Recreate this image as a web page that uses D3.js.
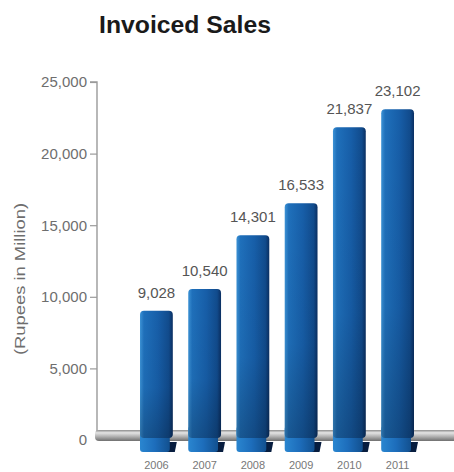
<!DOCTYPE html>
<html>
<head>
<meta charset="utf-8">
<script src="https://cdn.jsdelivr.net/npm/d3@7"></script>
<style>
  html, body { margin: 0; padding: 0; background: #fff; }
  svg { display: block; }
</style>
</head>
<body>
<script>
// Invoiced sales, Rupees in Million
const years = ["2006", "2007", "2008", "2009", "2010", "2011"];
const sales = [9028, 10540, 14301, 16533, 21837, 23102];
const yTicks = [0, 5000, 10000, 15000, 20000, 25000];

const W = 454, H = 472;
const svg = d3.select("body").append("svg").attr("width", W).attr("height", H);
const defs = svg.append("defs");

// bar body: lit left edge fading to a dark right edge
const gBar = defs.append("linearGradient").attr("id", "barH").attr("x1", 0).attr("x2", 1).attr("y1", 0).attr("y2", 0);
[[0, "#3d93d6"], [0.12, "#1f70bb"], [0.55, "#175ea8"], [0.88, "#114b8c"], [1, "#0a2f62"]]
  .forEach(([o, c]) => gBar.append("stop").attr("offset", o).attr("stop-color", c));
// slight darkening towards the foot
const gShade = defs.append("linearGradient").attr("id", "barV").attr("x1", 0).attr("x2", 0).attr("y1", 0).attr("y2", 1);
[[0, "#000", 0], [0.6, "#000", 0.04], [1, "#000", 0.22]]
  .forEach(([o, c, a]) => gShade.append("stop").attr("offset", o).attr("stop-color", c).attr("stop-opacity", a));
// floor cylinder
const gFloor = defs.append("linearGradient").attr("id", "floor").attr("x1", 0).attr("x2", 0).attr("y1", 0).attr("y2", 1);
[[0, "#8c8c8c"], [0.25, "#e4e4e4"], [0.55, "#b8b8b8"], [1, "#6f6f6f"]]
  .forEach(([o, c]) => gFloor.append("stop").attr("offset", o).attr("stop-color", c));
// foot of the bar
const gFoot = defs.append("linearGradient").attr("id", "foot").attr("x1", 0).attr("x2", 1).attr("y1", 0).attr("y2", 0);
[[0, "#2a86d0"], [0.5, "#1d6dbb"], [1, "#12508f"]]
  .forEach(([o, c]) => gFoot.append("stop").attr("offset", o).attr("stop-color", c));

const x = d3.scaleBand().domain(years).range([140, 414]).paddingInner(0.32).paddingOuter(0);
const y = d3.scaleLinear().domain([0, 25000]).range([440, 82]);

const font = "'Liberation Sans', Arial, Helvetica, sans-serif";

// title
svg.append("text").attr("x", 99).attr("y", 33)
  .attr("font-family", font).attr("font-weight", "bold").attr("font-size", 23)
  .attr("textLength", 172).attr("lengthAdjust", "spacingAndGlyphs")
  .attr("fill", "#1a1a1a").text("Invoiced Sales");

// y axis
const axisX = 97;
const yAxis = svg.append("g").attr("transform", `translate(${axisX},0)`)
  .call(d3.axisLeft(y).tickValues(yTicks).tickSize(7).tickPadding(3).tickFormat(d3.format(",")));
yAxis.select(".domain").attr("stroke", "#9a9a9a").attr("stroke-width", 1.4)
  .attr("d", `M-7,${y(25000)}H0V${y(0) - 8}`);
yAxis.selectAll(".tick line").attr("stroke", "#9a9a9a").attr("stroke-width", 1.2);
yAxis.selectAll(".tick").filter(d => d === 0).select("line").remove();
yAxis.selectAll(".tick text").attr("font-family", font).attr("font-size", 15).attr("fill", "#6e6e6e");

// y axis title
svg.append("text")
  .attr("transform", `translate(25,${(y(0) + y(25000)) / 2 + 18}) rotate(-90)`)
  .attr("text-anchor", "middle").attr("font-family", font).attr("font-size", 14)
  .attr("textLength", 152).attr("lengthAdjust", "spacingAndGlyphs")
  .attr("fill", "#6e6e6e").text("(Rupees in Million)");

// floor
const floorTop = y(0) - 10, floorH = 11;
svg.append("rect").attr("x", 95).attr("y", floorTop).attr("width", W - 95 + 6).attr("height", floorH)
  .attr("rx", 4).attr("fill", "url(#floor)");

const footBottom = 452;
const bw = x.bandwidth();
const bars = svg.append("g").selectAll("g").data(years).join("g");

// foot below the floor, with dark curled tip
bars.append("path")
  .attr("d", (d) => {
    const x0 = x(d) + bw - 8, yt = floorTop + 12;
    return `M${x0},${yt}L${x0 + 12},${yt}L${x0 + 10},${footBottom}L${x0},${footBottom}Z`;
  })
  .attr("fill", "#071d3f");
bars.append("rect")
  .attr("x", d => x(d)).attr("y", floorTop - 4)
  .attr("width", bw - 3).attr("height", footBottom - floorTop + 4)
  .attr("rx", 3).attr("fill", "url(#foot)");

// bar bodies
bars.append("rect")
  .attr("x", d => x(d)).attr("y", (d, i) => y(sales[i]))
  .attr("width", bw).attr("height", (d, i) => floorTop + 8 - y(sales[i]))
  .attr("rx", 4).attr("fill", "url(#barH)");
bars.append("rect")
  .attr("x", d => x(d)).attr("y", (d, i) => y(sales[i]))
  .attr("width", bw).attr("height", (d, i) => floorTop + 8 - y(sales[i]))
  .attr("rx", 4).attr("fill", "url(#barV)");

// value labels
bars.append("text")
  .attr("x", d => x(d) + bw / 2).attr("y", (d, i) => y(sales[i]) - 13)
  .attr("text-anchor", "middle").attr("font-family", font).attr("font-size", 15)
  .attr("fill", "#555").text((d, i) => d3.format(",")(sales[i]));

// year labels
bars.append("text")
  .attr("x", d => x(d) + bw / 2).attr("y", 469)
  .attr("text-anchor", "middle").attr("font-family", font).attr("font-size", 11)
  .attr("fill", "#777").text(d => d);
</script>
</body>
</html>
